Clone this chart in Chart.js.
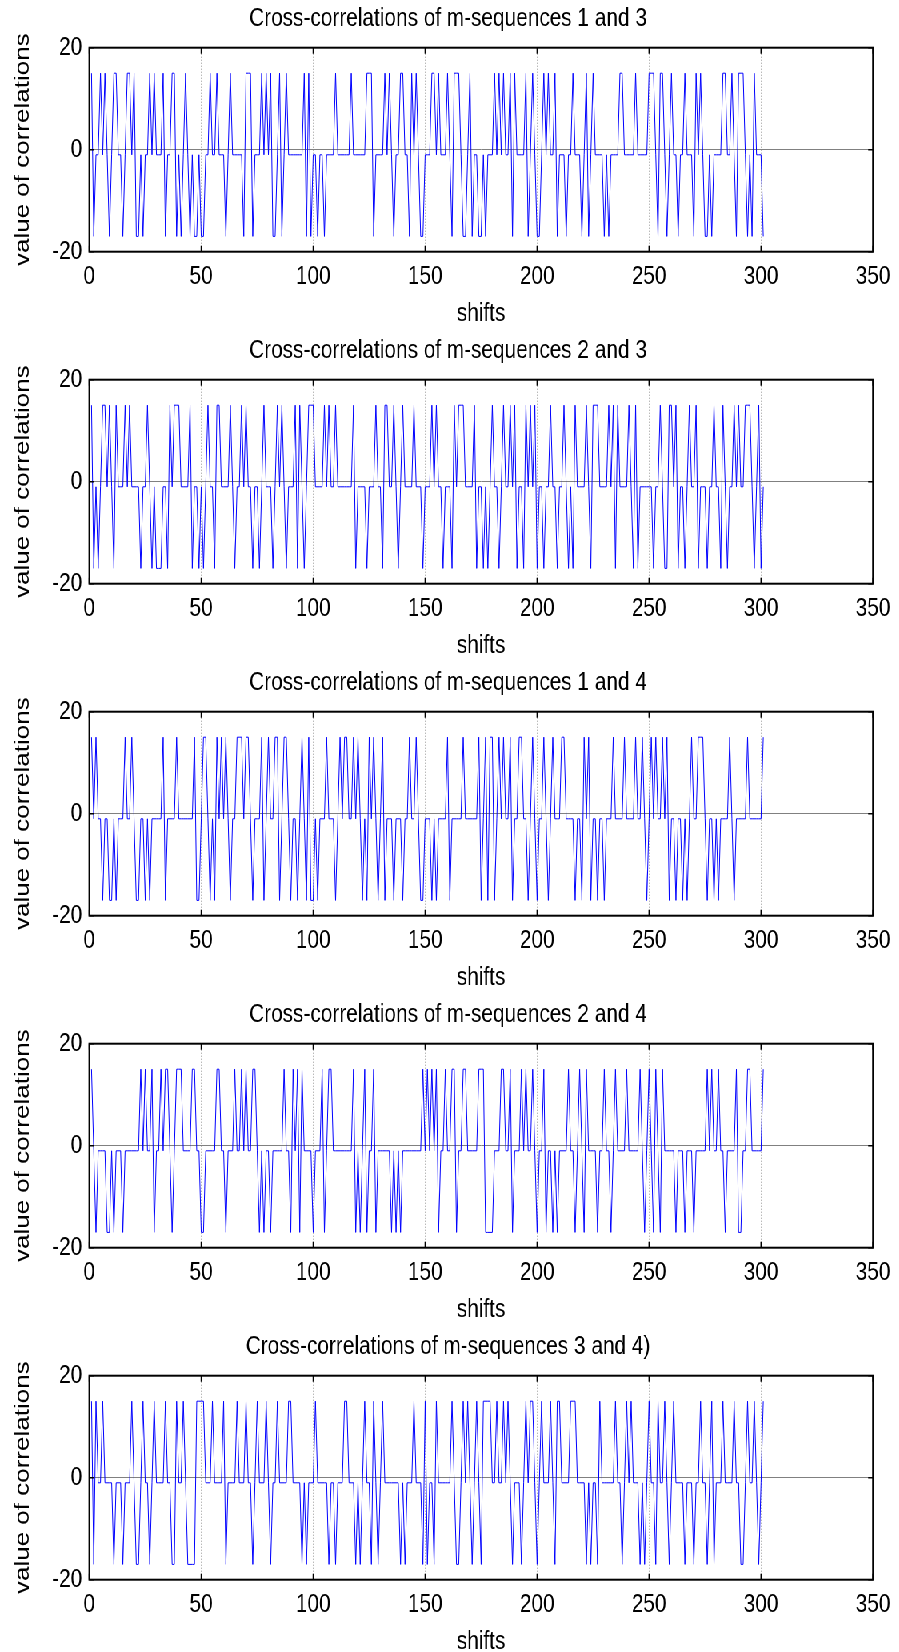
<!DOCTYPE html>
<html>
<head>
<meta charset="utf-8">
<title>Cross-correlations of m-sequences</title>
<script src="https://cdn.jsdelivr.net/npm/chart.js@4.4.1/dist/chart.umd.min.js"></script>
<style>
  html, body { margin: 0; padding: 0; background: #fff; overflow: hidden; }
  /* the source figure is horizontally squeezed, so draw wide and squeeze it back */
  #figure { position: absolute; left: 0; top: 0; width: 1124px; height: 1652px;
            transform: scaleX(0.8); transform-origin: 0 0; }
  .panel { position: absolute; left: 0; width: 1124px; height: 332px; }
</style>
</head>
<body>
<div id="figure"></div>
<script>
// Cross-correlation values per shift (shift = index + 1).
const CC_1_3 = [
  15,-17,-1,-1,15,-1,15,-1,-17,-1, 15,15,-1,-1,-17,-1,15,15,-1,15,
  -17,-17,-1,-17,-1,-1,15,-1,15,-1, -1,-1,15,-17,-1,-1,15,15,-17,-1,
  -17,-1,15,-1,-17,-1,-17,-17,-1,-17, -17,-1,-1,15,-1,-1,15,-1,-1,-1,
  -17,-1,15,-1,-1,-1,-1,-1,-17,15, 15,15,-17,-1,-1,-1,15,-1,15,-1,
  15,-17,-17,-1,15,-17,-1,15,-1,-1, -1,-1,-1,-1,-1,15,-17,15,-17,-1,
  -1,-17,-1,-1,-17,-1,-1,-1,-1,15, -1,-1,-1,-1,-1,-1,15,-1,-1,-1,
  -1,-1,-1,15,15,15,-17,-1,-1,-1, -1,15,-1,15,-1,-17,-1,-1,15,15,
  -1,-1,-17,15,-1,15,-1,-17,-17,-1, -1,-1,15,15,-1,15,-1,-1,-1,15,
  -1,-17,15,15,15,-1,-17,-17,-1,15, -17,-1,-1,-17,-17,-1,-17,-1,-1,-1,
  15,-1,15,-1,15,-1,-1,15,-17,15, -1,-1,-1,-1,15,-17,-1,15,-1,-17,
  -17,-1,15,-1,15,-1,-1,15,-17,-1, -1,-1,-17,-1,-1,15,-1,-1,-1,-17,
  -1,15,-17,-1,15,-1,-1,-1,-1,-17, -1,-17,-1,-1,-1,-1,15,15,-1,-1,
  -1,-1,-1,15,-1,-1,-1,-1,-1,15, 15,15,-1,-17,15,15,-1,-17,-1,15,
  -1,-1,-17,-1,-1,15,-1,-1,-1,-17, 15,-1,15,-1,-17,-17,-1,-17,-1,-1,
  -1,-1,15,15,-1,-1,15,-1,-17,15, 15,15,-1,-17,-1,-17,15,-1,-1,-1,
  -17
];
const CC_2_3 = [
  15,-17,-1,-17,-1,15,15,-1,15,-1, -17,15,-1,-1,-1,15,-1,15,-1,-1,
  -1,-1,-17,-1,-1,15,-1,-17,-1,-17, -17,-17,-1,-1,-17,15,-1,15,15,15,
  -1,-1,-1,-1,15,-17,-1,-1,-17,-1, -17,-1,15,-1,-1,-17,15,15,-1,-1,
  -1,-1,15,-1,-17,-1,-1,15,-1,15, -1,-1,-17,-1,-1,-17,-1,15,-1,-1,
  -1,-17,-1,15,-1,15,-1,-17,-1,-1, -1,15,-17,15,-1,-17,-1,15,15,15,
  -1,-1,-1,-1,15,-1,15,-1,-1,15, -1,-1,-1,-1,-1,-1,-1,15,-17,-1,
  -1,-1,-1,-17,-1,-1,-1,15,-1,-1, -17,15,15,-1,-1,15,-1,-17,-1,15,
  -1,-1,-1,-1,15,-1,-1,-1,-17,-1, -1,-1,15,-1,15,-1,-1,-17,-1,-1,
  -1,-17,15,-1,15,15,15,-1,-1,-1, -1,15,-17,-1,-1,-17,-1,-17,-1,15,
  -1,-1,-17,-1,15,-1,-1,15,-1,15, -17,-1,-1,-17,15,-1,15,-1,15,-17,
  -1,-1,-17,-1,-1,15,-1,-1,-17,-1, -1,15,-1,-17,-1,-17,15,-1,-1,-1,
  -1,15,-1,-17,15,15,15,-1,-1,-1, -1,15,-1,15,-17,15,-1,-1,-1,-1,
  15,-1,-17,15,-17,-1,-1,-1,-1,-1, -1,-17,-1,-1,15,-1,-17,-17,15,15,
  -1,15,-17,-1,-1,-17,-1,15,-1,-1, 15,-17,-1,-1,-1,-17,-1,-1,15,-1,
  -1,-17,15,-1,-17,-1,-1,15,-1,15, -1,-1,15,15,15,-1,-17,-1,15,-17,
  -1
];
const CC_1_4 = [
  15,-1,15,-1,-1,-17,-1,-1,-17,-17, -1,-17,-1,-1,-1,15,-1,-1,15,-1,
  -17,-17,-1,-1,-17,-1,-17,-1,-1,-1, -1,-1,15,-17,-1,-1,-1,-1,15,-1,
  -1,-1,-1,-1,-1,-1,15,-17,-17,-1, 15,15,-1,-17,-1,-17,15,-1,15,-1,
  15,-1,-17,-1,-1,15,15,15,-1,15, 15,-1,-17,-1,-1,-1,15,-17,-1,15,
  -1,-1,15,15,-17,-1,15,15,-1,-17, -1,-1,-17,-1,15,-1,-17,15,-17,-17,
  -1,-17,-1,-1,-1,15,-1,-1,-1,-17, -1,15,-1,15,15,-1,-1,15,-1,15,
  -1,-17,-1,-17,15,-1,15,-1,-17,-1, 15,-17,-1,-1,-1,-17,-1,-1,-1,-17,
  -1,-1,15,-1,-1,15,-1,-17,-17,-1, -1,-1,-17,-1,-17,-1,-1,-1,-1,15,
  -17,-1,-1,-1,-1,-1,15,-1,-1,-1, -1,-1,-1,15,-17,-1,15,-17,15,15,
  -17,-1,15,-1,15,-1,-1,15,-17,-1, -1,15,15,-1,-1,-17,-1,15,-1,-17,
  -1,-1,15,-1,-17,-1,15,-1,-1,-1, 15,15,-1,-1,-1,-1,-17,-1,-1,-17,
  15,-1,15,-17,-1,-1,-17,-1,-1,-17, -1,-1,-1,15,-1,-1,-1,-1,15,-1,
  -1,-1,-1,15,-1,-1,15,-1,-17,-1, 15,-1,15,-1,-1,15,-1,15,-17,-1,
  -1,-17,-1,-1,-17,-1,-17,-1,15,-1, -1,15,15,15,-1,-17,-1,-1,-17,-1,
  -17,-1,-1,-1,-1,15,-1,-17,-1,-1, -1,-1,-1,15,-1,-1,-1,-1,-1,-1,
  15
];
const CC_2_4 = [
  15,-1,-17,-1,-1,-1,-1,-17,-17,-1, -17,-1,-1,-1,-17,-1,-1,-1,-1,-1,
  -1,-1,15,-1,15,-1,-1,15,-17,-1, -1,15,-1,15,15,-1,-17,-1,15,15,
  15,-1,-1,-1,-1,15,15,-1,-1,-17, -17,-1,-1,-1,-1,-1,15,15,-1,-1,
  -17,-1,-1,-1,15,-1,-1,15,-1,15, -1,-1,15,15,-1,-17,-1,-17,-1,-1,
  -17,-1,-1,-1,-1,-1,15,-1,-1,-17, 15,-1,15,-17,15,-1,-1,-1,-1,-17,
  -1,-1,-1,15,-17,-1,15,15,-1,-1, -1,-1,-1,-1,-1,-1,-1,15,-17,-1,
  -17,-1,15,-17,-1,-1,15,-17,-1,-1, -1,-1,-1,-1,-17,-1,-17,-1,-17,-1,
  -1,-1,-1,-1,-1,-1,-1,-1,15,-1, 15,-1,15,-1,15,-17,-1,-1,15,-1,
  -1,15,15,-17,-1,-1,15,15,-1,-1, -1,-1,-1,15,15,15,-17,-17,-17,-17,
  -1,-1,-1,15,15,-1,-1,15,-17,-1, -1,-1,15,-1,15,-1,-1,15,-1,-17,
  -1,-1,15,-17,-1,-1,-17,-1,-17,-1, -1,-1,-1,15,-1,-1,-17,-1,15,-1,
  -17,15,-1,-1,-1,-1,-17,-1,-1,15, -1,-1,-17,-1,15,-1,-1,-1,-1,15,
  -1,-1,-1,-1,-1,15,-1,-17,-1,15, -1,-17,15,-1,-17,15,-1,-1,-1,-1,
  -1,-17,-1,-1,-1,-17,-1,-1,-1,-17, -1,-1,-1,-1,-1,15,-1,15,-1,-1,
  15,-1,-1,-17,-1,-1,-1,-1,15,-17, -17,-1,-1,15,15,-1,-1,-1,-1,-1,
  15
];
const CC_3_4 = [
  15,-17,15,-1,-1,15,-1,-1,-1,-1, -17,-1,-1,-1,-17,-1,-1,-1,15,-1,
  -17,-17,-1,15,-1,-1,-17,-1,15,-1, -1,-1,-1,15,-1,-1,-17,-17,15,-1,
  -1,15,-1,-17,-17,-17,-17,15,15,15, 15,-1,-1,-1,15,-1,-1,-1,-1,15,
  -17,-1,-1,-1,-1,15,-1,-1,-1,15, -1,-1,-17,-1,15,-1,-1,-1,15,-1,
  -17,-1,-1,15,-1,-1,-1,-1,15,15, -1,-1,-1,-1,-17,-1,-17,-1,-1,-1,
  15,-1,-1,-1,-1,-1,-17,-1,-1,-17, -1,-1,-1,15,15,-1,-1,-1,-17,-1,
  -17,-1,15,-1,-1,-17,15,-1,-17,-1, 15,-1,-1,-1,-1,-1,-1,-1,-17,-1,
  -17,-1,-1,-1,15,-1,-1,-1,-17,15, -17,-1,-1,-17,15,-1,-1,-1,-1,-1,
  -1,15,-1,-17,-17,-1,15,-1,15,-1, -17,-1,15,-1,-17,15,15,15,15,-1,
  -1,15,-1,-1,15,-1,15,-1,-17,-1, -1,-1,-17,-1,15,-1,15,15,-1,-17,
  -1,15,-1,-1,-1,15,-1,-17,15,15, -1,-1,-1,-1,15,15,15,-1,-1,-1,
  -1,-17,-1,-17,-1,-1,-17,15,-1,-1, -1,-1,-1,-1,15,-1,-1,-17,-1,15,
  -1,15,-1,-1,-1,-17,-1,-17,-1,15, -1,-1,-17,15,-1,-1,15,-1,-17,-1,
  15,-1,-1,-1,-1,-17,-1,-1,-1,-17, -1,-1,15,-1,-1,-17,-1,15,-17,-1,
  -1,-1,15,-1,-1,-1,-1,15,-1,-1, -17,-17,-1,15,-1,-1,15,-1,-17,-1,
  15
];

const TITLES = [
  'Cross-correlations of m-sequences 1 and 3',
  'Cross-correlations of m-sequences 2 and 3',
  'Cross-correlations of m-sequences 1 and 4',
  'Cross-correlations of m-sequences 2 and 4',
  'Cross-correlations of m-sequences 3 and 4)'
];
const SERIES = [CC_1_3, CC_2_3, CC_1_4, CC_2_4, CC_3_4];

const X_MIN = 0, X_MAX = 350, X_STEP = 50;
const Y_MIN = -20, Y_MAX = 20, Y_STEP = 20;

const FONT = "'Liberation Sans', Arial, Helvetica, sans-serif";
const FONT_SIZE = 26;
const PANEL_H = 332;
const PAD_LEFT = 28.8;       // shifts the centred title to where the figure has it
const AXIS_LEFT = 82.8;      // y axis width, so the box starts at PAD_LEFT + AXIS_LEFT
const AREA_BOTTOM = 251.7;   // bottom of the plot box inside a panel

// MATLAB-like frame: full box plus short inward tick marks on every side
const boxPlugin = {
  id: 'matlabBox',
  afterDatasetsDraw(chart) {
    const { ctx, chartArea: a, scales: { x, y } } = chart;
    const len = 6;
    ctx.save();
    ctx.strokeStyle = '#000';
    ctx.lineWidth = 1.5;
    ctx.beginPath();
    x.ticks.forEach(t => {
      const px = x.getPixelForValue(t.value);
      ctx.moveTo(px, a.top); ctx.lineTo(px, a.top + len);
      ctx.moveTo(px, a.bottom); ctx.lineTo(px, a.bottom - len);
    });
    y.ticks.forEach(t => {
      const py = y.getPixelForValue(t.value);
      ctx.moveTo(a.left, py); ctx.lineTo(a.left + len, py);
      ctx.moveTo(a.right, py); ctx.lineTo(a.right - len, py);
    });
    ctx.stroke();
    ctx.lineWidth = 2;
    ctx.strokeRect(a.left, a.top, a.right - a.left, a.bottom - a.top);
    ctx.restore();
  }
};

const font = { family: FONT, size: FONT_SIZE, weight: 'normal' };
const figure = document.getElementById('figure');

SERIES.forEach((values, i) => {
  const panel = document.createElement('div');
  panel.className = 'panel';
  panel.style.top = (i * PANEL_H) + 'px';
  const canvas = document.createElement('canvas');
  panel.appendChild(canvas);
  figure.appendChild(panel);

  new Chart(canvas, {
    type: 'line',
    data: {
      datasets: [{
        data: values.map((v, k) => ({ x: k + 1, y: v })),
        borderColor: '#0000ff',
        borderWidth: 1,
        pointRadius: 0,
        tension: 0,
        fill: false,
      }],
    },
    options: {
      responsive: true,
      maintainAspectRatio: false,
      animation: false,
      devicePixelRatio: 1,
      layout: { padding: { left: PAD_LEFT, right: 32.75, top: 0, bottom: 0 } },
      plugins: {
        legend: { display: false },
        tooltip: { enabled: false },
        title: {
          display: true,
          text: TITLES[i],
          color: '#000',
          font,
          padding: { top: 3.4, bottom: 13.1 },
        },
      },
      scales: {
        x: {
          type: 'linear',
          min: X_MIN,
          max: X_MAX,
          ticks: { stepSize: X_STEP, color: '#000', font, padding: 10, maxRotation: 0, autoSkip: false },
          grid: {
            drawTicks: false,
            color: (c) => (c.tick && c.tick.value > X_MIN && c.tick.value < X_MAX)
              ? 'rgba(120,120,120,0.75)' : 'rgba(0,0,0,0)',
          },
          border: { display: false, dash: [1, 2] },
          title: { display: true, text: 'shifts', color: '#000', font, padding: { top: 0, bottom: 2.4 } },
          afterFit: (s) => { s.height = PANEL_H - AREA_BOTTOM; },
        },
        y: {
          min: Y_MIN,
          max: Y_MAX,
          ticks: { stepSize: Y_STEP, color: '#000', font, padding: 9 },
          grid: {
            drawTicks: false,
            color: (c) => (c.tick && c.tick.value === 0) ? '#808080' : 'rgba(0,0,0,0)',
          },
          border: { display: false },
          title: { display: true, text: 'value of correlations', color: '#000', font, padding: { top: -15.6, bottom: 0 } },
          afterFit: (s) => { s.width = AXIS_LEFT; },
        },
      },
    },
    plugins: [boxPlugin],
  });
});
</script>
</body>
</html>
